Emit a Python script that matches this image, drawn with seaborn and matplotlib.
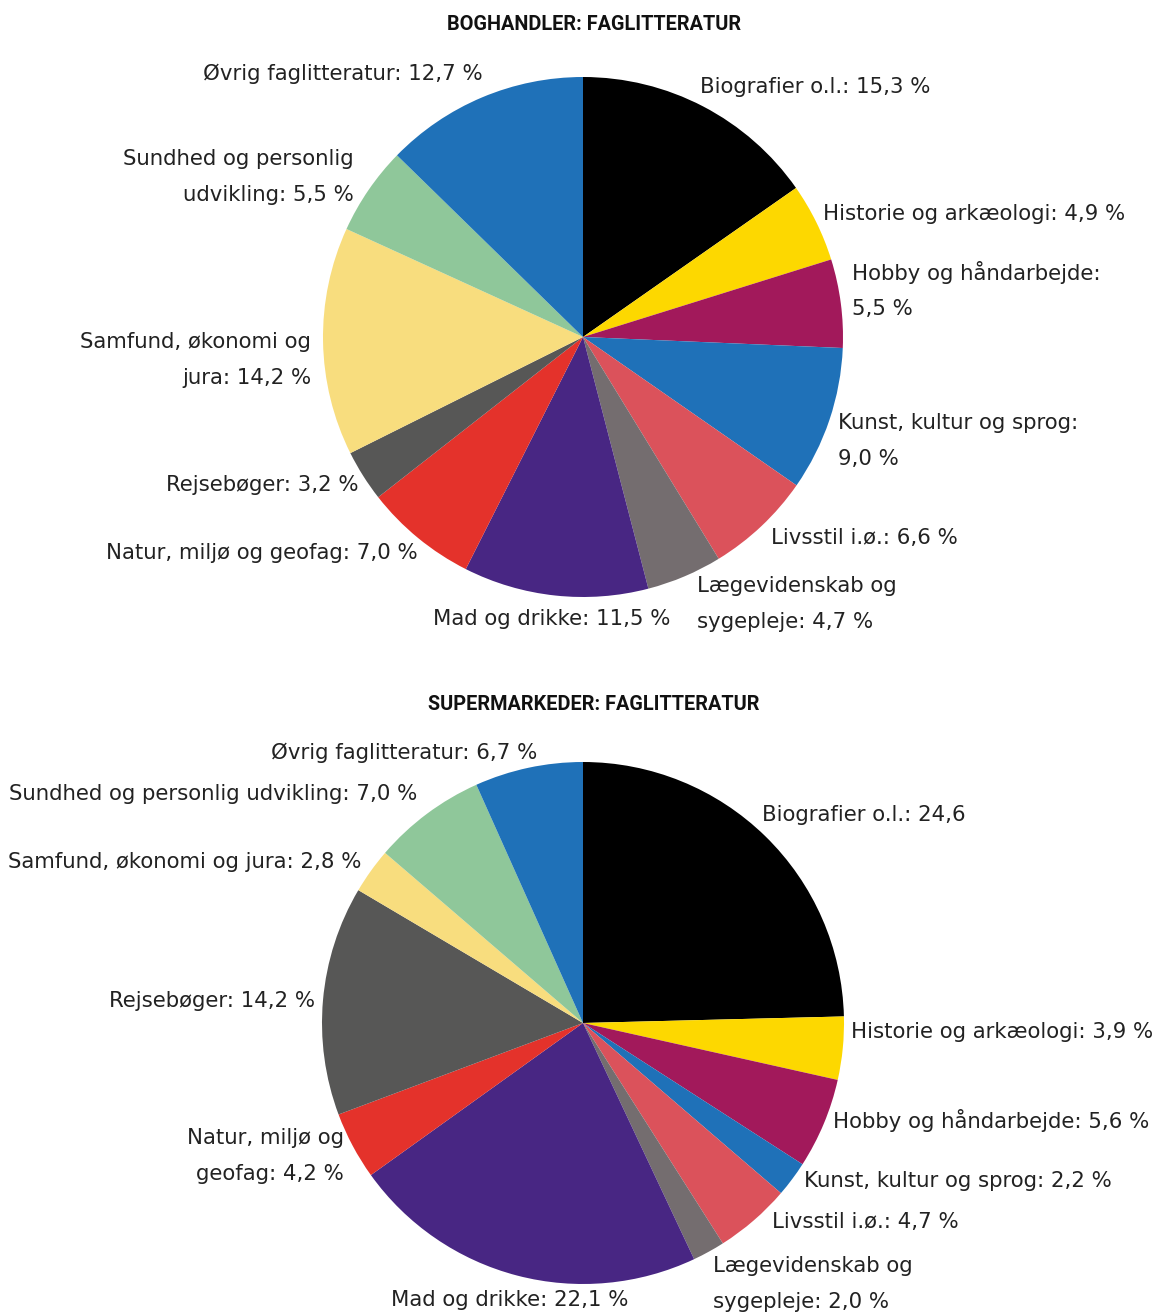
import matplotlib.pyplot as plt
import seaborn as sns

sns.set_theme(style="white")
plt.rcParams['font.family'] = ['DejaVu Sans']

# Data
categories = ['Biografier o.l.', 'Historie og arkæologi', 'Hobby og håndarbejde',
              'Kunst, kultur og sprog', 'Livsstil i.ø.', 'Lægevidenskab og sygepleje',
              'Mad og drikke', 'Natur, miljø og geofag', 'Rejsebøger',
              'Samfund, økonomi og jura', 'Sundhed og personlig udvikling',
              'Øvrig faglitteratur']
boghandler = [15.3, 4.9, 5.5, 9.0, 6.6, 4.7, 11.5, 7.0, 3.2, 14.2, 5.5, 12.7]
supermarkeder = [24.6, 3.9, 5.6, 2.2, 4.7, 2.0, 22.1, 4.2, 14.2, 2.8, 7.0, 6.7]

labels_bog = ['Biografier o.l.: 15,3 %', 'Historie og arkæologi: 4,9 %',
              'Hobby og håndarbejde:\n5,5 %', 'Kunst, kultur og sprog:\n9,0 %',
              'Livsstil i.ø.: 6,6 %', 'Lægevidenskab og\nsygepleje: 4,7 %',
              'Mad og drikke: 11,5 %', 'Natur, miljø og geofag: 7,0 %',
              'Rejsebøger: 3,2 %', 'Samfund, økonomi og\njura: 14,2 %',
              'Sundhed og personlig\nudvikling: 5,5 %', 'Øvrig faglitteratur: 12,7 %']
labels_sup = ['Biografier o.l.: 24,6', 'Historie og arkæologi: 3,9 %',
              'Hobby og håndarbejde: 5,6 %', 'Kunst, kultur og sprog: 2,2 %',
              'Livsstil i.ø.: 4,7 %', 'Lægevidenskab og\nsygepleje: 2,0 %',
              'Mad og drikke: 22,1 %', 'Natur, miljø og\ngeofag: 4,2 %',
              'Rejsebøger: 14,2 %', 'Samfund, økonomi og jura: 2,8 %',
              'Sundhed og personlig udvikling: 7,0 %', 'Øvrig faglitteratur: 6,7 %']

colors = ['#000000', '#fdd800', '#a2195b', '#1f71b8', '#db525b', '#746d6f',
          '#482683', '#e4322b', '#575756', '#f8dd7e', '#8fc79a', '#1f71b8']

W, H = 1162, 1314

# label layout in pixels: (x, y, ha)
pos_bog = [(700, 87, 'left'), (823, 214, 'left'), (852, 290, 'left'),
           (838, 441, 'left'), (771, 538, 'left'), (697, 604, 'left'),
           (670, 619, 'right'), (418, 553, 'right'), (358, 485, 'right'),
           (311, 360, 'right'), (354, 177, 'right'), (483, 74, 'right')]
pos_sup = [(762, 815, 'left'), (851, 1032, 'left'), (833, 1121, 'left'),
           (804, 1181, 'left'), (772, 1222, 'left'), (713, 1284, 'left'),
           (628, 1300, 'right'), (344, 1156, 'right'), (315, 1001, 'right'),
           (361, 862, 'right'), (417, 794, 'right'), (537, 753, 'right')]

fig = plt.figure(figsize=(W / 100, H / 100), dpi=100)


def draw_pie(cx, cy, r, values, labels, positions, title, ty):
    ax = fig.add_axes([(cx - r) / W, 1 - (cy + r) / H, 2 * r / W, 2 * r / H])
    ax.pie(values, colors=colors, startangle=90, counterclock=False,
           radius=1, wedgeprops=dict(linewidth=0))
    ax.set_xlim(-1, 1)
    ax.set_ylim(-1, 1)
    ax.axis('off')
    for lab, (x, y, ha) in zip(labels, positions):
        fig.text(x / W, 1 - y / H, lab, ha=ha, va='center', fontsize=15.3,
                 color='#222222', linespacing=1.95, multialignment=ha)
    fig.text(594 / W, 1 - ty / H, title, ha='center', va='center',
             fontsize=14.3, fontweight='bold', color='#111111',
             family=['Roboto', 'DejaVu Sans'])


draw_pie(583, 337, 260, boghandler, labels_bog, pos_bog,
         'BOGHANDLER: FAGLITTERATUR', 24)
draw_pie(583, 1023, 261, supermarkeder, labels_sup, pos_sup,
         'SUPERMARKEDER: FAGLITTERATUR', 704)

fig.savefig('out.png', dpi=100, facecolor='white')
